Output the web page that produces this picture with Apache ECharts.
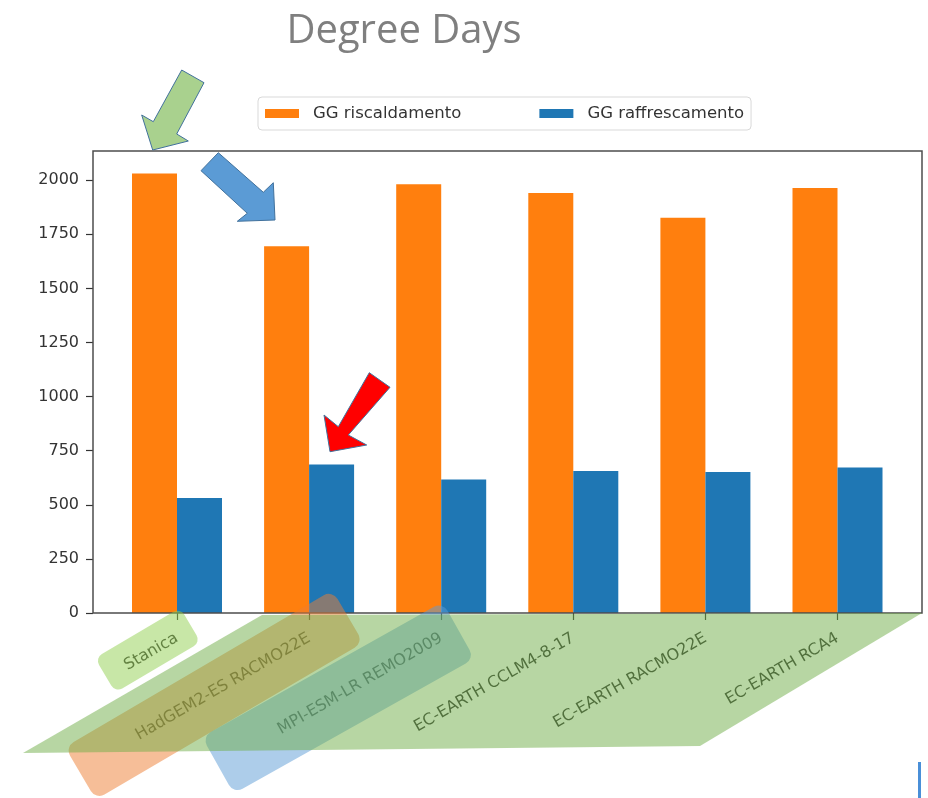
<!DOCTYPE html>
<html>
<head>
<meta charset="utf-8">
<title>Degree Days</title>
<script src="https://cdn.jsdelivr.net/npm/echarts@6/dist/echarts.min.js"></script>
<style>
  html, body { margin: 0; padding: 0; background: #ffffff; }
  #chart { width: 928px; height: 798px; }
</style>
</head>
<body>
<div id="chart"></div>
<script>
// Climate model runs compared against the station record
const categories = [
  'Stanica',
  'HadGEM2-ES RACMO22E',
  'MPI-ESM-LR REMO2009',
  'EC-EARTH CCLM4-8-17',
  'EC-EARTH RACMO22E',
  'EC-EARTH RCA4'
];
const seriesNames = ['GG riscaldamento', 'GG raffrescamento'];
// Heating and cooling degree days per run
const heatingDegreeDays = [2031, 1695, 1981, 1941, 1826, 1964];
const coolingDegreeDays = [531, 686, 617, 656, 652, 672];
const yTicks = [0, 250, 500, 750, 1000, 1250, 1500, 1750, 2000];
const yMax = 2135;
const titleText = 'Degree Days';

// Plot frame and the band layout of the bar grid inside it
const frame = { left: 93, top: 151, width: 829, height: 462 };
const band = 132.1;
const firstCenter = 84;
const barGridLeft = frame.left + firstCenter - band / 2;
const barGridWidth = band * categories.length;

const tickFont = { fontFamily: 'DejaVu Sans', fontSize: 16, color: '#333333' };

// Slide annotations: callout arrows and translucent highlight shapes
const arrowStroke = '#41719c';
const deg = Math.PI / 180;
const annotations = [
  { type: 'rect', z: 100, x: 65, y: 747, rotation: 30.4 * deg,
    shape: { x: 0, y: 0, width: 310, height: 61, r: 10 },
    style: { fill: 'rgba(237,125,49,0.5)' } },
  { type: 'rect', z: 101, x: 202, y: 737, rotation: 29.3 * deg,
    shape: { x: 0, y: 0, width: 276, height: 65, r: 10 },
    style: { fill: 'rgba(91,155,213,0.5)' } },
  { type: 'polygon', z: 102,
    shape: { points: [[23, 753], [262, 615], [922, 613], [700, 746]] },
    style: { fill: 'rgba(112,173,71,0.5)' } },
  { type: 'rect', z: 103, x: 95, y: 658, rotation: 30.5 * deg,
    shape: { x: 0, y: 0, width: 99, height: 40, r: 8 },
    style: { fill: 'rgba(146,208,80,0.5)' } },
  { type: 'polygon', z: 110,
    shape: { points: [[181.7, 70], [204, 82.7], [176.7, 134], [188.3, 141], [152.7, 150], [141.7, 115], [153.3, 121.7]] },
    style: { fill: '#a9d18e', stroke: arrowStroke, lineWidth: 1 } },
  { type: 'polygon', z: 110,
    shape: { points: [[218.3, 152.7], [263.3, 192.3], [273.3, 182.7], [275, 220], [237.3, 221.3], [247.3, 213.3], [201, 170.7]] },
    style: { fill: '#5b9bd5', stroke: arrowStroke, lineWidth: 1 } },
  { type: 'polygon', z: 110,
    shape: { points: [[369.3, 372.7], [390, 387.3], [348.3, 435], [366.7, 445], [330, 451.7], [324, 415], [338.3, 426.7]] },
    style: { fill: '#ff0000', stroke: arrowStroke, lineWidth: 1 } },
  { type: 'rect', z: 110,
    shape: { x: 918, y: 762, width: 3, height: 36 },
    style: { fill: '#4a8fd8' } }
];

const chart = echarts.init(document.getElementById('chart'), null, { renderer: 'canvas' });

chart.setOption({
  backgroundColor: '#ffffff',
  animation: false,
  title: {
    text: titleText,
    left: 399,
    textAlign: 'center',
    top: 7,
    textStyle: { fontFamily: 'Open Sans', fontSize: 40, fontWeight: 'normal', color: '#7f7f7f' }
  },
  legend: {
    data: seriesNames,
    left: 258,
    top: 97,
    orient: 'horizontal',
    icon: 'rect',
    itemWidth: 34,
    itemHeight: 9,
    itemGap: 78,
    padding: [8, 7, 8, 7],
    borderColor: '#d9d9d9',
    borderWidth: 1,
    borderRadius: 4,
    backgroundColor: '#ffffff',
    textStyle: { fontFamily: 'DejaVu Sans', fontSize: 16.5, color: '#333333', padding: [0, 0, 0, 9] }
  },
  grid: [
    { left: barGridLeft, top: frame.top, width: barGridWidth, height: frame.height, containLabel: false },
    { left: frame.left, top: frame.top, width: frame.width, height: frame.height,
      show: true, z: 5, backgroundColor: 'transparent', borderColor: '#4d4d4d', borderWidth: 1.5 }
  ],
  xAxis: [
    {
      gridIndex: 0,
      type: 'category',
      data: categories,
      axisLine: { show: false },
      axisTick: { show: true, alignWithLabel: true, length: 7, lineStyle: { color: '#333333', width: 1.2 } },
      axisLabel: Object.assign({ rotate: 30, margin: 24, interval: 0 }, tickFont),
      splitLine: { show: false }
    },
    { gridIndex: 1, type: 'value', show: false }
  ],
  yAxis: [
    {
      gridIndex: 0,
      type: 'value',
      min: 0,
      max: yMax,
      offset: barGridLeft - frame.left,
      axisLine: { show: false },
      axisTick: { show: true, length: 7, customValues: yTicks, lineStyle: { color: '#333333', width: 1.2 } },
      axisLabel: Object.assign({ margin: 14, customValues: yTicks, formatter: v => String(v) }, tickFont),
      splitLine: { show: false }
    },
    { gridIndex: 1, type: 'value', show: false }
  ],
  series: [
    {
      name: seriesNames[0],
      type: 'bar',
      xAxisIndex: 0,
      yAxisIndex: 0,
      data: heatingDegreeDays,
      barWidth: 45,
      barGap: '0%',
      itemStyle: { color: '#ff7f0e' }
    },
    {
      name: seriesNames[1],
      type: 'bar',
      xAxisIndex: 0,
      yAxisIndex: 0,
      data: coolingDegreeDays,
      barWidth: 45,
      barGap: '0%',
      itemStyle: { color: '#1f77b4' }
    }
  ],
  graphic: { elements: annotations }
});
</script>
</body>
</html>
